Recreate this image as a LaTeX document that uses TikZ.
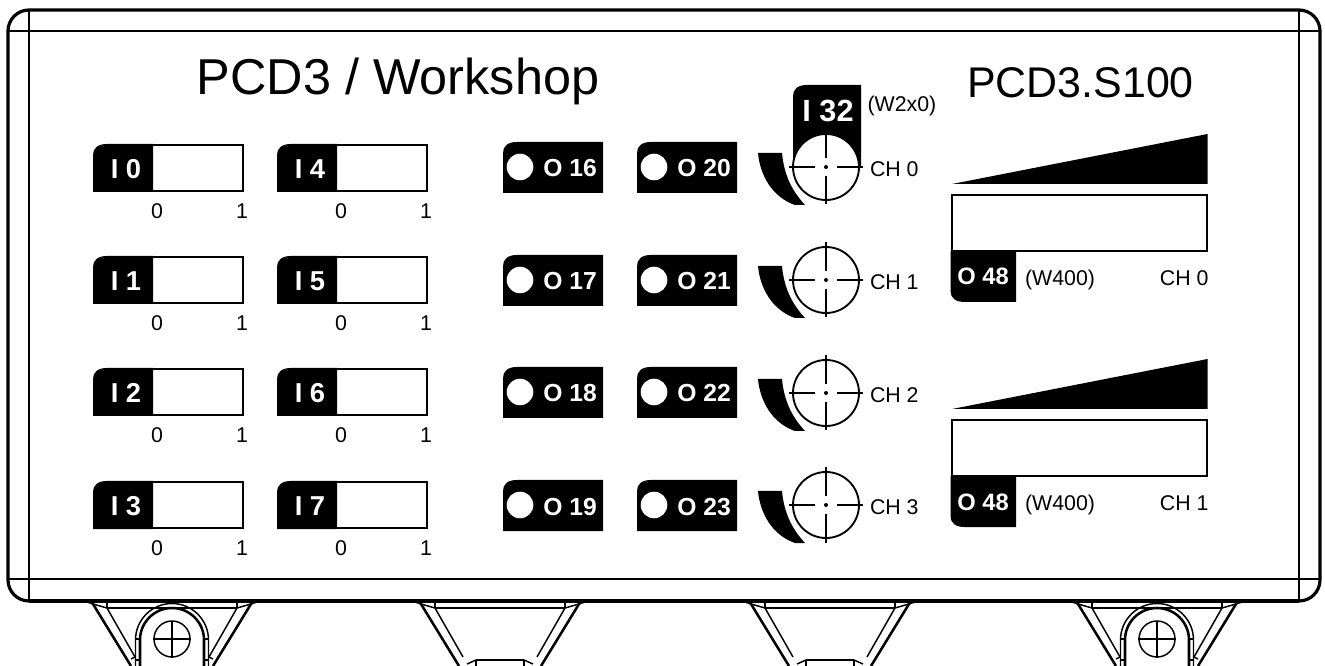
\documentclass[tikz,border=0pt]{standalone}
\usepackage{fontspec}
\setmainfont{Liberation Sans}
\newcommand{\labfont}{\fontsize{16}{19}\selectfont}
\newcommand{\tlbox}[4]{(#1,#4) -- (#1,#2+11) .. controls (#1,#2+4) and (#1+5,#2) .. (#1+14,#2) -- (#3,#2) -- (#3,#4) -- cycle}
\newcommand{\blbox}[4]{(#1,#2) -- (#1,#4-11) .. controls (#1,#4-4) and (#1+5,#4) .. (#1+14,#4) -- (#3,#4) -- (#3,#2) -- cycle}
\tikzset{
  x=0.75pt,y=-0.75pt,
  txt/.style={inner sep=0pt,outer sep=0pt,anchor=base,text=black,font=\labfont},
  txtl/.style={txt,anchor=base west},
  txtr/.style={txt,anchor=base east},
  inv/.style={inner sep=0pt,outer sep=0pt,anchor=base,text=white,font=\fontsize{#1}{#1}\selectfont\bfseries},
  box/.style={draw=black,line width=1.5pt,fill=white},
  blk/.style={fill=black,draw=none},
  cross/.style={draw=black,line width=1.4pt},
  brk/.style={draw=black,line width=1.1pt},
  brkb/.style={draw=black,line width=1.9pt},
}
\begin{document}
\begin{tikzpicture}
\useasboundingbox (0,0) rectangle (1325,666);
\clip (0,0) rectangle (1325,666);
% mounting brackets
\foreach \c/\hole in {172/1,500/0,830/0,1157/1}{
  \begin{scope}[shift={(\c,0)}]
    \draw[brkb] (-84,602) .. controls (-81,602) and (-80,603) .. (-79,604) -- (-41,666);
    \draw[brkb] (84,602) .. controls (81,602) and (80,603) .. (79,604) -- (41,666);
    \draw[brk] (-65,608) -- (-37,657) (65,608) -- (37,657);
    \draw[brkb] (-65,608) -- (65,608);
    \draw[brk] (-65,602) -- (-65,608) (65,602) -- (65,608);
    \draw[brk] (-79,604) -- (-65,608) (79,604) -- (65,608);
    \ifnum\hole=1
      \draw[brk] (-36.5,666) -- (-36.5,640) arc[start angle=180,end angle=360,radius=36.5] -- (36.5,666);
      \draw[brkb] (-32,666) -- (-32,640) arc[start angle=180,end angle=360,radius=32] -- (32,666);
      \draw[brk] (-36.5,639) -- (-32,639) (36.5,639) -- (32,639);
      \draw[brk] (-37,657) -- (-41,659) (37,657) -- (41,659);
      \draw[brk] (0,639) circle[radius=18];
      \draw[brk] (-19,639) -- (19,639) (0,620.5) -- (0,658);
      \draw[brk] (-36,660) -- (-32,660) (36,660) -- (32,660);
    \else
      \draw[brk] (-24,660) -- (24,660);
      \draw[brk] (-24,660) -- (-24,666) (24,660) -- (24,666);
      \draw[brk] (-24,660) -- (-33,664) (24,660) -- (33,664);
    \fi
  \end{scope}
}
% housing
\draw[draw=black,line width=2.4pt,fill=white,rounded corners=15.75pt] (8,10) rectangle (1320,601);
\draw[draw=black,line width=1.5pt] (29,10) -- (29,601) (1299,10) -- (1299,601) (8,31) -- (1320,31) (8,579) -- (1320,579);
\draw[draw=black,line width=2.8pt] (29,601) -- (1299,601);
% titles
\node[txt,font=\fontsize{37.8}{45}\selectfont] (title) at (398,95) {PCD3 / Workshop};
\node[txt,font=\fontsize{32.2}{38}\selectfont] (model) at (1080.5,97.5) {PCD3.S100};
% switches
\foreach \n/\x/\y in {0/93/144,1/93/256,2/93/368,3/93/481,4/277/144,5/277/256,6/277/368,7/277/481}{
  \path[box] (\x+59,\y+1) rectangle (\x+150,\y+47);
  \fill[blk] \tlbox{\x}{\y}{\x+60}{\y+48};
  \node[inv=20.5] (sw\n) at (\x+33,\y+35) {I \n};
  \node[txt] (swz\n) at (\x+64,\y+75) {0};
  \node[txt] (swo\n) at (\x+149,\y+75) {1};
}
% outputs
\foreach \n/\x/\y in {16/503/142,17/503/255,18/503/367,19/503/480,20/637/142,21/637/255,22/637/367,23/637/480}{
  \fill[blk] \tlbox{\x}{\y}{\x+100}{\y+51};
  \fill[white] (\x+17,\y+25) circle[radius=13.3];
  \node[inv=18.5] (out\n) at (\x+67,\y+35) {O \n};
}
% encoder input label
\fill[blk] \tlbox{793}{85}{861}{167};
\node[inv=23] (enc) at (828,122) {I 32};
\node[txtl] (encw) at (867.5,112) {(W2x0)};
% encoders
\foreach \n/\y in {0/167,1/280,2/393,3/505}{
  \fill[blk] (758,\y-14) -- (782,\y-14) .. controls (784,\y+8) and (792,\y+24) .. (805,\y+38)
     .. controls (803,\y+38) and (799,\y+38) .. (795,\y+38) .. controls (772,\y+30) and (760,\y+8) .. (758,\y-14) -- cycle;
  \draw[cross,fill=white] (826,\y) circle[radius=33];
  \draw[cross] (789,\y) -- (815,\y) (837,\y) -- (863,\y) (826,\y-37.5) -- (826,\y-9) (826,\y+9) -- (826,\y+37.5);
  \fill[black] (826,\y) circle[radius=2];
  \node[txtl] (ch\n) at (870,\y+9.5) {CH \n};
}
% analogue outputs
\foreach \n/\d in {0/0,1/225}{
  \fill[blk] (952,184+\d) -- (1207.5,134+\d) -- (1207.5,184+\d) -- cycle;
  \path[box] (951.5,195+\d) rectangle (1207,251+\d);
  \fill[blk] \blbox{950.5}{251+\d}{1016}{302+\d};
  \node[inv=17.8] (ao\n) at (983,285+\d) {O 48};
  \node[txt] (aow\n) at (1060,285.5+\d) {(W400)};
  \node[txtr] (aoc\n) at (1208.5,285.5+\d) {CH \n};
}
\end{tikzpicture}
\end{document}
